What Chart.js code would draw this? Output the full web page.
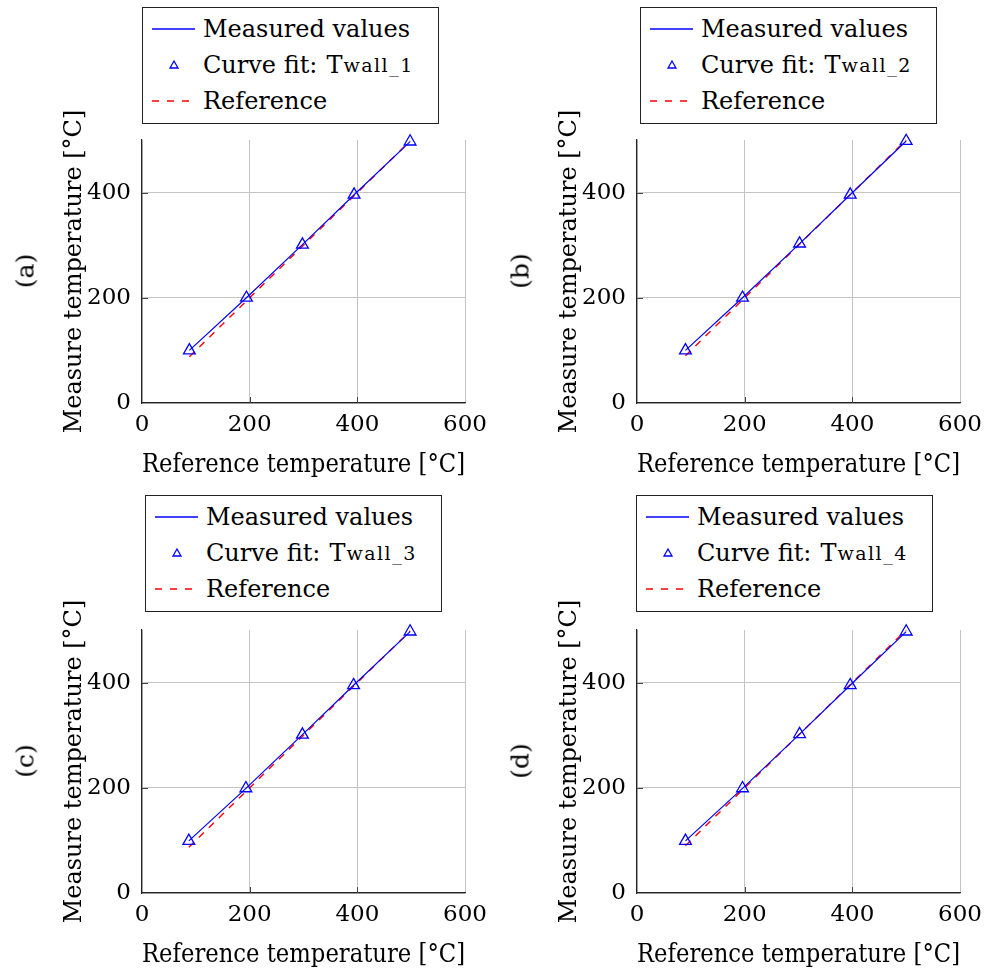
<!DOCTYPE html>
<html>
<head>
<meta charset="utf-8">
<script src="https://cdn.jsdelivr.net/npm/chart.js@4.4.1/dist/chart.umd.min.js"></script>
<style>
  html, body { margin: 0; padding: 0; background: #fff; }
  body {
    width: 985px; height: 980px; position: relative; overflow: hidden;
    font-family: 'DejaVu Serif', serif; color: #000;
  }
  canvas { position: absolute; }
  .legend {
    position: absolute; box-sizing: border-box; width: 297px; height: 117px;
    border: 1px solid #222; padding-top: 3px; background: #fff;
  }
  .legend .row { height: 36px; display: flex; align-items: center; font-size: 24px; white-space: nowrap; }
  .legend .sample { width: 60px; height: 36px; flex: none; }
  .legend .sym { margin-left: 9px; }
  .legend sub { font-size: 19px; vertical-align: -6px; line-height: 0; margin-left: 1px; letter-spacing: 1.5px; }
  .tag {
    position: absolute; font-size: 25px; white-space: nowrap;
    transform: translate(-50%, -50%) rotate(-90deg);
  }
</style>
</head>
<body>
<script>
// Calibration data per wall sensor: reference temperature (x) and measured temperature (y)
const refTemp1 = [88, 194, 298, 394, 498];
const measTemp1 = [100, 200, 301, 396, 497];
const refTemp2 = [90, 196, 302, 396, 500];
const measTemp2 = [100, 200, 303, 396, 498];
const refTemp3 = [87, 193, 298, 393, 498];
const measTemp3 = [99, 199, 301, 395, 497];
const refTemp4 = [90, 196, 302, 396, 500];
const measTemp4 = [99, 199, 302, 395, 497];

const panelTags = ['(a)', '(b)', '(c)', '(d)'];
const sensorNames = ['wall_1', 'wall_2', 'wall_3', 'wall_4'];
const xTicks = [0, 200, 400, 600];
const yTicks = [0, 200, 400];

const FONT = "'DejaVu Serif', serif";

// panel placement: canvas origin, legend box origin, tag centre
const panels = [
  { ref: refTemp1, meas: measTemp1, left: 0,   top: 100, legend: [142, 7],   tag: [25, 271] },
  { ref: refTemp2, meas: measTemp2, left: 495, top: 100, legend: [640, 7],   tag: [520, 271] },
  { ref: refTemp3, meas: measTemp3, left: 0,   top: 590, legend: [145, 495], tag: [25, 761] },
  { ref: refTemp4, meas: measTemp4, left: 495, top: 590, legend: [636, 495], tag: [520, 761] },
];

// short inward tick marks on the left and bottom axes
const innerTicks = {
  id: 'innerTicks',
  beforeDatasetsDraw(chart) {
    const { ctx, chartArea, scales } = chart;
    ctx.save();
    ctx.strokeStyle = '#444';
    ctx.lineWidth = 1;
    ctx.beginPath();
    xTicks.forEach((v) => {
      if (v === 0 || v === 600) return;
      const px = Math.round(scales.x.getPixelForValue(v)) + 0.5;
      ctx.moveTo(px, chartArea.bottom);
      ctx.lineTo(px, chartArea.bottom - 6);
    });
    yTicks.forEach((v) => {
      if (v === 0) return;
      const py = Math.round(scales.y.getPixelForValue(v)) + 0.5;
      ctx.moveTo(chartArea.left, py);
      ctx.lineTo(chartArea.left + 6, py);
    });
    ctx.stroke();
    ctx.restore();
  },
};

function zeroPadding(axis) {
  axis.paddingLeft = 0;
  axis.paddingRight = 0;
  axis.paddingTop = 0;
  axis.paddingBottom = 0;
}

function buildLegend(i, pos) {
  const box = document.createElement('div');
  box.className = 'legend';
  box.style.left = pos[0] + 'px';
  box.style.top = pos[1] + 'px';
  box.innerHTML =
    '<div class="row"><svg class="sample"><line x1="9" y1="18" x2="52" y2="18" stroke="#0000ff" stroke-width="1.3"/></svg>Measured values</div>' +
    '<div class="row"><svg class="sample"><polygon points="31,14 35,21 27,21" fill="none" stroke="#0000ff" stroke-width="1.3"/></svg>Curve fit:<span class="sym">T</span><sub>' + sensorNames[i] + '</sub></div>' +
    '<div class="row"><svg class="sample"><line x1="9" y1="18" x2="52" y2="18" stroke="#ff0000" stroke-width="1.3" stroke-dasharray="7,8"/></svg>Reference</div>';
  document.body.appendChild(box);
}

function buildTag(i, pos) {
  const el = document.createElement('div');
  el.className = 'tag';
  el.textContent = panelTags[i];
  el.style.left = pos[0] + 'px';
  el.style.top = pos[1] + 'px';
  document.body.appendChild(el);
}

function buildChart(p) {
  const canvas = document.createElement('canvas');
  canvas.width = 490;
  canvas.height = 390;
  canvas.style.left = p.left + 'px';
  canvas.style.top = p.top + 'px';
  canvas.style.width = '490px';
  canvas.style.height = '390px';
  document.body.appendChild(canvas);

  const points = p.ref.map((r, k) => ({ x: r, y: p.meas[k] }));
  const refLine = p.ref.map((r) => ({ x: r, y: r }));

  new Chart(canvas, {
    type: 'scatter',
    data: {
      datasets: [
        {
          label: 'Curve fit',
          data: points,
          showLine: false,
          clip: false,
          pointStyle: 'triangle',
          pointRadius: 6.8,
          pointBorderWidth: 1.3,
          pointBorderColor: '#0000ff',
          pointBackgroundColor: 'rgba(0,0,0,0)',
        },
        {
          label: 'Measured values',
          data: points,
          showLine: true,
          clip: false,
          borderColor: '#0000ff',
          borderWidth: 1.2,
          pointRadius: 0,
        },
        {
          label: 'Reference',
          data: refLine,
          showLine: true,
          clip: false,
          borderColor: '#ff0000',
          borderWidth: 1.4,
          borderDash: [7, 7],
          pointRadius: 0,
        },
      ],
    },
    options: {
      responsive: false,
      animation: false,
      devicePixelRatio: 1,
      layout: { autoPadding: false, padding: { left: 0, top: 40, right: 25, bottom: 0 } },
      plugins: { legend: { display: false }, tooltip: { enabled: false } },
      scales: {
        x: {
          type: 'linear',
          min: 0,
          max: 600,
          afterBuildTicks: (axis) => { axis.ticks = xTicks.map((v) => ({ value: v })); },
          afterFit: (axis) => { axis.height = 87; zeroPadding(axis); },
          grid: { color: '#c4c4c4', lineWidth: 1, drawTicks: false },
          border: { color: '#222', width: 1.2 },
          ticks: { color: '#000', padding: 8, font: { family: FONT, size: 23 }, maxRotation: 0 },
          title: {
            display: true,
            text: 'Reference temperature [°C]',
            color: '#000',
            font: { family: FONT, size: 26 },
            padding: { top: 0, bottom: 9 },
          },
        },
        y: {
          type: 'linear',
          min: 0,
          max: 500,
          afterBuildTicks: (axis) => { axis.ticks = yTicks.map((v) => ({ value: v })); },
          afterFit: (axis) => { axis.width = 142; zeroPadding(axis); },
          grid: { color: '#c4c4c4', lineWidth: 1, drawTicks: false },
          border: { color: '#222', width: 1.2 },
          ticks: { color: '#000', padding: 11, font: { family: FONT, size: 23 } },
          title: {
            display: true,
            text: 'Measure temperature [°C]',
            color: '#000',
            font: { family: FONT, size: 24 },
            padding: { top: 60, bottom: 0 },
          },
        },
      },
    },
    plugins: [innerTicks],
  });
}

panels.forEach((p, i) => {
  buildChart(p);
  buildLegend(i, p.legend);
  buildTag(i, p.tag);
});
</script>
</body>
</html>
